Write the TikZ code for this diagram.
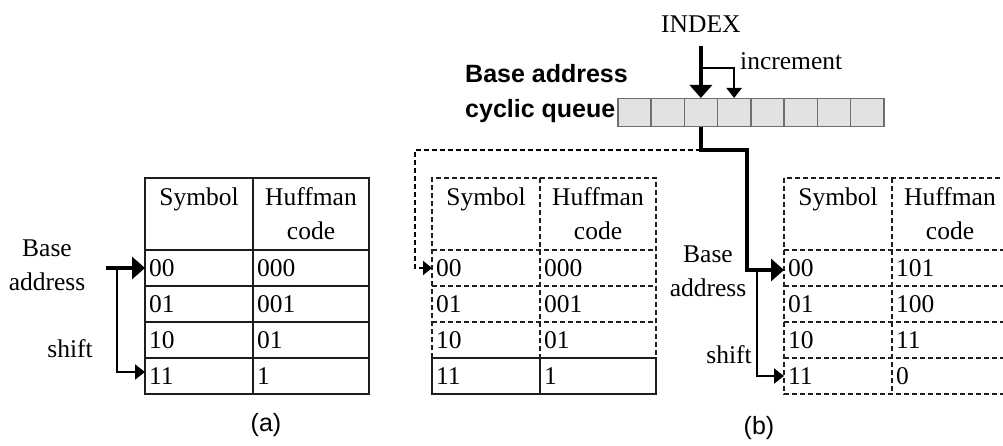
\documentclass[tikz,border=0pt]{standalone}
\usepackage{fontspec}
\setmainfont{Liberation Serif}
\setsansfont{Liberation Sans}
\usetikzlibrary{arrows.meta,positioning}

\definecolor{queuefill}{RGB}{226,226,226}
\definecolor{queuedraw}{RGB}{110,110,110}
\definecolor{gridline}{RGB}{30,30,30}

\newcommand\figfont{\fontsize{25.5}{34}\selectfont}

\tikzset{
  thead/.style={text width=#1, align=center, minimum height=72pt, inner sep=0pt, outer sep=0pt, anchor=north west},
  tcell/.style={text width=#1, align=left, minimum height=36pt, inner xsep=4pt, inner ysep=0pt, outer sep=0pt, anchor=north west},
  qcell/.style={draw=queuedraw, fill=queuefill, line width=1.5pt, minimum width=33.25pt, minimum height=28pt, inner sep=0pt, anchor=north west},
  tabline/.style={draw=gridline, line width=1.8pt},
  tabdash/.style={dash pattern=on 5pt off 3pt},
  bigarrow/.style={line width=4pt, -{Triangle[length=13pt,width=22pt]}},
  smallarrow/.style={line width=2.2pt, -{Triangle[length=10pt,width=15pt]}},
  dasharrow/.style={line width=1.8pt, tabdash, -{Triangle[length=9pt,width=14pt]}}
}

% one table: name, left x, symbol/code pairs
\newcommand\hufftable[3]{%
  \node[thead=108pt] (#1-sh) at (#2,178) {Symbol\\ \mbox{}};
  \node[thead=116pt] (#1-ch) at (#2+108,178) {Huffman\\code};
  \foreach \symb/\hcode [count=\row] in {#3}{
    \node[tcell=100pt] (#1-s\row) at (#2,214+36*\row) {\symb};
    \node[tcell=108pt] (#1-c\row) at (#2+108,214+36*\row) {\hcode};
  }%
}

\begin{document}
\begin{tikzpicture}[x=1pt, y=-1pt, every node/.style={font=\figfont}]
  \useasboundingbox (0,0) rectangle (1003,446);

  % tables
  \hufftable{A}{145}{00/000, 01/001, 10/01, 11/1}
  \hufftable{B}{432}{00/000, 01/001, 10/01, 11/1}
  \hufftable{C}{784}{00/101, 01/100, 10/11, 11/0}

  % table (a)
  \draw[tabline] (A-sh.north west) rectangle (A-c4.south east)
    (A-sh.north east) -- (A-s4.south east);
  \foreach \row in {1,...,4}
    \draw[tabline] (A-s\row.north west) -- (A-c\row.north east);

  % table (b), old codes: only last row kept solid
  \draw[tabline, tabdash] (B-s3.south west) |- (B-ch.north east) -- (B-c3.south east)
    (B-sh.north east) -- (B-s3.south east);
  \foreach \row in {1,...,3}
    \draw[tabline, tabdash] (B-s\row.north west) -- (B-c\row.north east);
  \draw[tabline] (B-s4.north west) rectangle (B-c4.south east)
    (B-s4.north east) -- (B-s4.south east);

  % table (b), new codes
  \draw[tabline, tabdash] (C-sh.north west) rectangle (C-c4.south east)
    (C-sh.north east) -- (C-s4.south east);
  \foreach \row in {1,...,4}
    \draw[tabline, tabdash] (C-s\row.north west) -- (C-c\row.north east);

  % cyclic queue
  \foreach \i in {1,...,8}
    \node[qcell] (q\i) at (617+33.25*\i-33.25,98) {};
  \node[anchor=north west, inner sep=0pt, align=left,
        font=\fontsize{25}{35}\sffamily\bfseries\selectfont] (qlabel) at (465,64) {Base address\\cyclic queue};

  % index pointer
  \coordinate (idx) at ([yshift=52pt]q3.north);
  \node[above=13pt of idx, inner sep=0pt] (index) {INDEX};
  \draw[bigarrow] (idx) -- (q3.north);
  \coordinate (incr) at ([yshift=-22pt]idx);
  \draw[smallarrow] (incr) -| (q4.north);
  \node[anchor=base west, inner sep=0pt] (inctext) at (740,70) {increment};

  % (a) arrows
  \coordinate (abase) at (106,268);
  \coordinate (ashift) at (117,268);
  \draw[bigarrow] (abase) -- (A-s1.west);
  \draw[smallarrow] (ashift) |- ([yshift=4pt]A-s4.west);
  \node[align=center, inner sep=0pt] (abaselbl) at (47,265) {Base\\address};
  \node[anchor=base, inner sep=0pt] (ashiftlbl) at (70,357) {shift};

  % (b) arrows
  \coordinate (dleft) at (415,150);
  \coordinate (split) at (q3.south |- dleft);
  \coordinate (sright) at (747,150);
  \coordinate (cshift) at (757,270);
  \draw[dasharrow] (split) -- (dleft) |- (B-s1.west);
  \draw[bigarrow] (q3.south) -- (split) -- (sright) |- ([yshift=-2pt]C-s1.west);
  \draw[smallarrow] (cshift) |- (C-s4.west);
  \node[align=center, inner sep=0pt] (bbaselbl) at (708,271) {Base\\address};
  \node[anchor=base east, inner sep=0pt] (bshiftlbl) at (752,363) {shift};

  % captions
  \node[font=\fontsize{25}{30}\sffamily\selectfont] (capa) at (266,425) {(a)};
  \node[font=\fontsize{25}{30}\sffamily\selectfont] (capb) at (759,428) {(b)};
\end{tikzpicture}
\end{document}
